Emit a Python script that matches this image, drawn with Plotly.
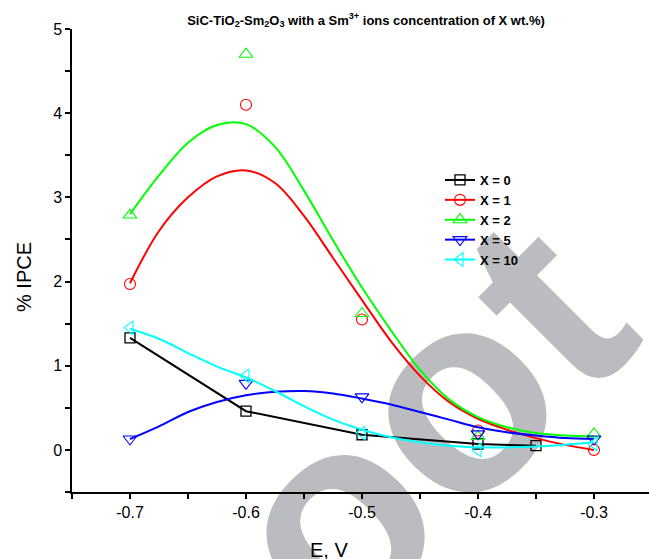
import plotly.graph_objects as go

# Measured IPCE points at each applied potential
x_pts = [-0.7, -0.6, -0.5, -0.4, -0.3]
x0_pts = [-0.7, -0.6, -0.5, -0.4, -0.35]
ipce_x0 = [1.33, 0.46, 0.18, 0.07, 0.05]
ipce_x1 = [1.97, 4.10, 1.55, 0.23, 0.00]
ipce_x2 = [2.79, 4.70, 1.62, 0.16, 0.19]
ipce_x5 = [0.13, 0.79, 0.63, 0.19, 0.13]
ipce_x10 = [1.45, 0.88, 0.20, 0.00, 0.07]

# Smoothed fit curves
x_fit = [-0.700, -0.675, -0.650, -0.625, -0.600, -0.575, -0.550, -0.525, -0.500,
         -0.475, -0.450, -0.425, -0.400, -0.375, -0.350, -0.325, -0.300]
fit_x1 = [1.98, 2.60, 3.00, 3.25, 3.32, 3.17, 2.78, 2.28, 1.78,
          1.29, 0.88, 0.57, 0.37, 0.24, 0.14, 0.06, 0.00]
fit_x2 = [2.80, 3.26, 3.65, 3.86, 3.87, 3.60, 3.08, 2.49, 1.93,
          1.42, 0.95, 0.60, 0.39, 0.27, 0.20, 0.17, 0.16]
fit_x5 = [0.13, 0.28, 0.45, 0.57, 0.65, 0.69, 0.70, 0.67, 0.61,
          0.54, 0.45, 0.36, 0.27, 0.21, 0.17, 0.14, 0.13]
fit_x10 = [1.44, 1.32, 1.15, 0.99, 0.86, 0.70, 0.52, 0.36, 0.24,
           0.15, 0.09, 0.05, 0.03, 0.03, 0.04, 0.06, 0.09]

series_names = ["X = 0", "X = 1", "X = 2", "X = 5", "X = 10"]
colors = ["#000000", "#FF0000", "#00FF00", "#0000FF", "#00FFFF"]
symbols = ["square-open", "circle-open", "triangle-up-open",
           "triangle-down-open", "triangle-left-open"]
sizes = [10, 11, 12, 12, 12]

x_ticks = [-0.7, -0.6, -0.5, -0.4, -0.3]
y_ticks = [0, 1, 2, 3, 4, 5]

FONT = "Liberation Sans, Arial, sans-serif"

fig = go.Figure()

# X = 0 : points joined by straight segments
fig.add_trace(go.Scatter(
    x=x0_pts, y=ipce_x0, mode="lines+markers",
    line=dict(color=colors[0], width=2),
    marker=dict(symbol=symbols[0], size=sizes[0], color=colors[0], line=dict(width=1.3)),
    name=series_names[0]))

# Other concentrations: fitted curve plus raw points
fits = [fit_x1, fit_x2, fit_x5, fit_x10]
pts = [ipce_x1, ipce_x2, ipce_x5, ipce_x10]
for i in range(4):
    k = i + 1
    fig.add_trace(go.Scatter(
        x=x_fit, y=fits[i], mode="lines", line=dict(color=colors[k], width=2, shape="spline"),
        showlegend=False, hoverinfo="skip"))
    fig.add_trace(go.Scatter(
        x=x_pts, y=pts[i], mode="markers",
        marker=dict(symbol=symbols[k], size=sizes[k], color=colors[k], line=dict(width=1.1)),
        showlegend=False, name=series_names[k]))
    # legend entry showing line and symbol together
    fig.add_trace(go.Scatter(
        x=[None], y=[None], mode="lines+markers",
        line=dict(color=colors[k], width=2),
        marker=dict(symbol=symbols[k], size=sizes[k], color=colors[k], line=dict(width=1.1)),
        name=series_names[k]))

# pixel -> paper helpers for the 649x559 canvas
W, H = 649, 559
L, R, T, B = 72, 0, 29, 67
PW, PH = W - L - R, H - T - B


def px(x):
    return (x - L) / PW


def py(y):
    return (H - B - y) / PH


# background stamp text, kept beneath the data
stamp_size = 282
cx, cy = 277, 533
fig.add_shape(
    type="rect", xref="paper", yref="paper",
    x0=px(cx - 1), x1=px(cx + 1), y0=py(cy + 1), y1=py(cy - 1),
    line=dict(width=0), fillcolor="rgba(0,0,0,0)", layer="below",
    label=dict(text="Shoot", textangle=-45, textposition="middle center",
               font=dict(family=FONT, size=stamp_size, color="#BBBCBF", weight="bold")))

axis_common = dict(
    showline=True, linecolor="black", linewidth=1.5, mirror=False,
    ticks="outside", ticklen=5, tickwidth=1.5, tickcolor="black",
    showgrid=False, zeroline=False,
    tickfont=dict(family=FONT, size=16, color="black"),
)

fig.update_xaxes(
    range=[-0.75, -0.75 + PW / 1160.0], tickvals=x_ticks, ticktext=["%.1f" % v for v in x_ticks],
    minor=dict(dtick=0.05, tick0=-0.75, ticks="outside", ticklen=5, tickwidth=1.5, tickcolor="black"),
    **axis_common)
fig.update_yaxes(
    range=[-0.5, 5], tickvals=y_ticks,
    minor=dict(dtick=0.5, tick0=0, ticks="outside", ticklen=5, tickwidth=1.5, tickcolor="black"),
    **axis_common)

# axis titles
fig.add_annotation(text="E, V", xref="paper", yref="paper", x=px(329), y=py(550),
                   xanchor="center", yanchor="middle", showarrow=False,
                   font=dict(family=FONT, size=20, color="black"))
fig.add_annotation(text="% IPCE", xref="paper", yref="paper", x=px(24), y=py(277),
                   xanchor="center", yanchor="middle", showarrow=False, textangle=-90,
                   font=dict(family=FONT, size=20, color="black"))

fig.update_layout(
    width=W, height=H,
    margin=dict(l=L, r=R, t=T, b=B),
    paper_bgcolor="white", plot_bgcolor="rgba(0,0,0,0)",
    title=dict(
        text="SiC-TiO<sub>2</sub>-Sm<sub>2</sub>O<sub>3</sub> with a Sm<sup>3+</sup> ions concentration of X wt.%)",
        font=dict(family=FONT, size=13, color="black", weight="bold"),
        xref="container", x=366 / W, xanchor="center", y=1 - 20 / H, yanchor="middle"),
    legend=dict(
        x=px(440), y=py(165), xanchor="left", yanchor="top",
        bgcolor="rgba(0,0,0,0)", borderwidth=0,
        font=dict(family=FONT, size=13, color="black", weight="bold"),
        tracegroupgap=0, itemwidth=30),
    showlegend=True,
)

fig.write_html("out.html")
